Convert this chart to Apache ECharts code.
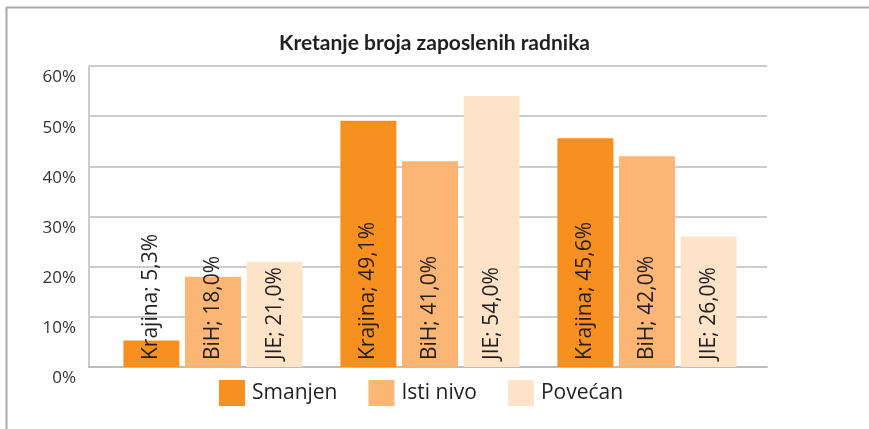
<!DOCTYPE html>
<html style="height: 100%">
<head>
    <meta charset="utf-8">
    <title>Kretanje broja zaposlenih radnika</title>
    <script type="text/javascript" src="https://cdn.jsdelivr.net/npm/echarts@6/dist/echarts.min.js"></script>
    <style>
        html, body {
            margin: 0;
            padding: 0;
            height: 100%;
            background: #ffffff;
        }
        #chart {
            width: 869px;
            height: 429px;
        }
    </style>
</head>
<body>
    <div id="chart"></div>
    <script type="text/javascript">
        // groups along the x axis (not printed in the original)
        var categories = ['Smanjen', 'Isti nivo', 'Povećan'];
        // legend names as printed in the original
        var legendNames = ['Smanjen', 'Isti nivo', 'Povećan'];
        // names used in the bar labels
        var labelNames = ['Krajina', 'BiH', 'JIE'];
        var krajina = [5.3, 49.1, 45.6];
        var bih = [18.0, 41.0, 42.0];
        var jie = [21.0, 54.0, 26.0];
        var yTicks = [0, 10, 20, 30, 40, 50, 60];

        var colors = ['#F7901E', '#FBB574', '#FDE3C7'];
        var textColor = '#231F20';
        var fontMain = "'Open Sans', 'Noto Sans', sans-serif";

        var chart = echarts.init(document.getElementById('chart'));

        function makeSeries(idx, values) {
            return {
                name: legendNames[idx],
                type: 'bar',
                xAxisIndex: 1,
                yAxisIndex: 1,
                barWidth: 56,
                barGap: '10%',
                itemStyle: { color: colors[idx] },
                label: {
                    show: true,
                    position: 'insideBottom',
                    distance: 7,
                    rotate: 90,
                    align: 'left',
                    verticalAlign: 'middle',
                    color: textColor,
                    fontSize: 21,
                    fontFamily: fontMain,
                    formatter: function (p) {
                        return labelNames[idx] + '; ' + p.value.toFixed(1).replace('.', ',') + '%';
                    }
                },
                data: values
            };
        }

        var option = {
            animation: false,
            backgroundColor: '#ffffff',
            title: {
                text: 'Kretanje broja zaposlenih radnika',
                left: 'center',
                top: 28,
                textStyle: {
                    color: textColor,
                    fontSize: 21,
                    fontWeight: 'bold',
                    fontFamily: "Lato, 'Liberation Sans Narrow', sans-serif"
                }
            },
            legend: {
                data: legendNames,
                left: 219,
                top: 380,
                padding: 0,
                icon: 'rect',
                itemWidth: 26,
                itemHeight: 26,
                itemGap: 31,
                textStyle: {
                    color: textColor,
                    fontSize: 21,
                    fontFamily: fontMain,
                    padding: [0, 0, 0, 2]
                }
            },
            graphic: [{
                type: 'line',
                shape: { x1: 6, y1: 7.5, x2: 869, y2: 7.5 },
                style: { stroke: '#A7A9AC', lineWidth: 2 }
            }, {
                type: 'line',
                shape: { x1: 6.5, y1: 7, x2: 6.5, y2: 429 },
                style: { stroke: '#A7A9AC', lineWidth: 2 }
            }],
            grid: [{
                left: 89,
                right: 102,
                top: 66,
                bottom: 62
            }, {
                left: 104.5,
                right: 113.5,
                top: 66,
                bottom: 62
            }],
            xAxis: [{
                type: 'category',
                gridIndex: 0,
                data: categories,
                axisLine: { show: true, lineStyle: { color: '#BDBDBD', width: 2 } },
                axisTick: { show: false },
                axisLabel: { show: false }
            }, {
                type: 'category',
                gridIndex: 1,
                data: categories,
                show: false
            }],
            yAxis: [{
                type: 'value',
                gridIndex: 0,
                min: yTicks[0],
                max: yTicks[yTicks.length - 1],
                interval: 10,
                axisLine: { show: true, lineStyle: { color: '#CCCCCC', width: 2 } },
                axisTick: { show: false },
                splitLine: { lineStyle: { color: '#CCCCCC', width: 2 } },
                axisLabel: {
                    margin: 13,
                    color: '#333333',
                    fontSize: 17,
                    fontFamily: fontMain,
                    verticalAlign: 'top',
                    padding: [3, 0, 0, 0],
                    formatter: '{value}%'
                }
            }, {
                type: 'value',
                gridIndex: 1,
                min: yTicks[0],
                max: yTicks[yTicks.length - 1],
                interval: 10,
                show: false,
                splitLine: { show: false }
            }],
            series: [
                makeSeries(0, krajina),
                makeSeries(1, bih),
                makeSeries(2, jie)
            ]
        };

        chart.setOption(option);
    </script>
</body>
</html>
